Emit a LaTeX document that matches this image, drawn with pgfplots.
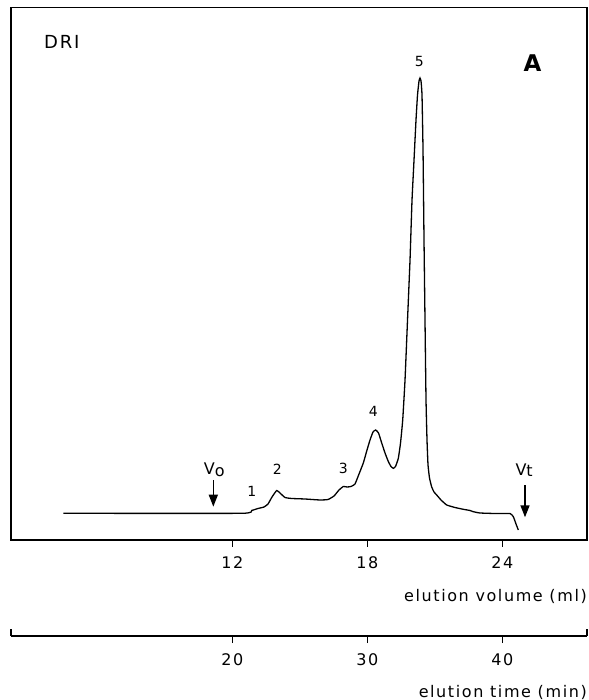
\documentclass[border=0pt]{standalone}
\usepackage{fontspec}
\setmainfont{DejaVu Sans}[LetterSpace=10]
\usepackage{pgfplots}
\usepackage{pgfplotstable}
\pgfplotsset{compat=1.18}
\usetikzlibrary{arrows.meta}

% DRI trace: elution volume (ml) vs. detector signal (arbitrary units)
\pgfplotstableread{
V S
4.489 26.7
12.418 26.7
12.862 29.5
13.142 31.5
13.409 33.0
13.587 36.0
13.764 43.0
13.973 49.5
14.120 47.0
14.342 42.5
14.653 41.5
15.231 41.0
15.898 40.0
16.253 40.5
16.520 44.0
16.742 50.0
16.933 53.5
17.098 53.0
17.276 53.5
17.453 56.0
17.631 66.0
17.822 77.0
17.987 90.0
18.120 100.0
18.253 108.0
18.373 110.0
18.498 107.0
18.640 97.0
18.787 87.0
18.933 78.5
19.053 73.5
19.156 71.7
19.253 73.5
19.378 81.7
19.476 97.0
19.573 120.0
19.676 160.0
19.787 220.0
19.898 280.0
19.987 340.0
20.076 380.0
20.164 420.0
20.231 445.0
20.298 459.0
20.342 462.0
20.387 459.0
20.431 445.0
20.476 390.0
20.520 300.0
20.564 220.0
20.609 140.0
20.653 100.0
20.698 75.0
20.764 62.0
20.862 53.0
20.964 48.0
21.084 45.0
21.276 40.0
21.529 35.0
21.898 32.5
22.267 30.7
22.564 29.5
22.711 28.3
23.009 27.0
23.676 26.5
24.342 26.5
24.489 23.3
24.609 16.0
24.711 10.0
}\driTrace

\newcommand{\ticksize}{\fontsize{16bp}{19bp}\selectfont}
\newcommand{\peaksize}{\fontsize{14bp}{17bp}\selectfont}

\begin{document}
\begin{tikzpicture}
\useasboundingbox (-11bp,-160bp) rectangle (578bp,540bp);

% main chromatogram, volume scale
\begin{axis}[
  at={(0,0)}, anchor=south west,
  scale only axis, width=576bp, height=532.5bp,
  xmin=2.164, xmax=27.764, ymin=0, ymax=532.5,
  axis line style={line width=1.1bp},
  xtick={12,18,24}, ytick=\empty,
  xtick pos=bottom, tick align=outside,
  major tick length=6.5bp,
  tick style={line width=0.9bp, black},
  /pgf/number format/assume math mode=true,
  xticklabel style={font=\ticksize, anchor=base, yshift=-22bp},
  clip=false,
]
\addplot[black, line width=1.3bp, smooth, tension=0.25] table[x=V, y=S] {\driTrace};

% void and total volume markers
\draw[line width=1.5bp, -{Triangle[length=12bp,width=9bp]}] (axis cs:11.156,60) -- (axis cs:11.156,33.3);
\draw[line width=1.5bp, -{Triangle[length=12bp,width=9bp]}] (axis cs:25.009,55) -- (axis cs:25.009,22.7);
\node[font=\ticksize] at (axis cs:11.2,70) {V\raisebox{-1.5bp}{o}};
\node[font=\ticksize] at (axis cs:24.97,70) {V\raisebox{-1.5bp}{t}};

% peak numbers
\node[font=\peaksize] at (axis cs:12.862,48.3) {1};
\node[font=\peaksize] at (axis cs:14.0,70.7) {2};
\node[font=\peaksize] at (axis cs:16.933,71.7) {3};
\node[font=\peaksize] at (axis cs:18.267,128.3) {4};
\node[font=\peaksize] at (axis cs:20.311,478.3) {5};

% detector and panel tags
\node[font=\fontsize{18bp}{21bp}\selectfont, anchor=west, inner sep=0pt] at (axis cs:3.631,498.3) {DRI};
\node[font=\fontsize{23bp}{27bp}\selectfont\bfseries, inner sep=0pt] at (axis cs:25.342,477) {A};

\node[font=\ticksize, anchor=base east, inner sep=0pt] at (rel axis cs:1,0) [yshift=-61bp] {elution volume (ml)};
\end{axis}

% time scale (flow 0.6 ml/min)
\begin{axis}[
  at={(0,-96bp)}, anchor=south west,
  scale only axis, width=576bp, height=20bp,
  xmin=3.607, xmax=46.273, ymin=0, ymax=1,
  axis x line*=bottom, axis y line=none,
  axis line style={line width=1.1bp},
  xtick={20,30,40},
  tick align=outside, major tick length=7bp,
  tick style={line width=0.9bp, black},
  /pgf/number format/assume math mode=true,
  xticklabel style={font=\ticksize, anchor=base, yshift=-22bp},
  clip=false,
]
\draw[line width=1.1bp] (rel axis cs:0,0) -- (rel axis cs:0,0.35);
\draw[line width=1.1bp] (rel axis cs:1,0) -- (rel axis cs:1,0.35);
\node[font=\ticksize, anchor=base east, inner sep=0pt] at (rel axis cs:1,0) [yshift=-61bp] {elution time (min)};
\end{axis}
\end{tikzpicture}
\end{document}
